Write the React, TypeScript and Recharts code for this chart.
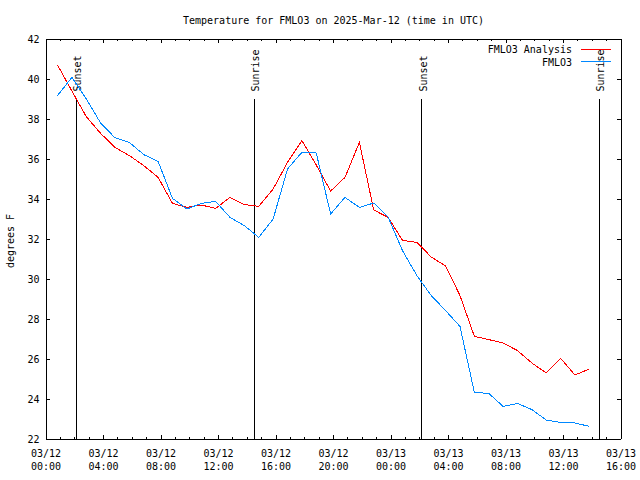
import React from 'react';
import { LineChart, Line, XAxis, YAxis, ReferenceLine, Legend } from 'recharts';

const FONT = '"DejaVu Sans Mono", "Liberation Mono", monospace';
const TITLE = 'Temperature for FMLO3 on 2025-Mar-12 (time in UTC)';
const Y_TITLE = 'degrees F';

// hours since 03/12 00:00 UTC
const HOURS = [
  0.8, 1.8, 2.8, 3.8, 4.8, 5.8, 6.8, 7.8, 8.8, 9.8,
  10.8, 11.8, 12.8, 13.8, 14.8, 15.8, 16.8, 17.8, 18.8, 19.8,
  20.8, 21.8, 22.8, 23.8, 24.8, 25.8, 26.8, 27.8, 28.8, 29.8,
  30.8, 31.8, 32.8, 33.8, 34.8, 35.8, 36.8, 37.8,
];
const ANALYSIS = [
  40.7, 39.4, 38.12, 37.28, 36.58, 36.17, 35.67, 35.08, 33.78, 33.58,
  33.7, 33.53, 34.08, 33.72, 33.63, 34.5, 35.83, 36.92, 35.7, 34.4,
  35.08, 36.83, 33.45, 33.08, 31.93, 31.83, 31.1, 30.65, 29.17, 27.13,
  26.97, 26.8, 26.42, 25.8, 25.3, 26.03, 25.2, 25.5,
];
const OBSERVED = [
  39.17, 40.08, 39.0, 37.8, 37.06, 36.83, 36.22, 35.88, 34.03, 33.5,
  33.78, 33.88, 33.08, 32.67, 32.08, 33.0, 35.5, 36.33, 36.3, 33.25,
  34.08, 33.58, 33.8, 33.1, 31.42, 30.17, 29.17, 28.42, 27.63, 24.33,
  24.28, 23.63, 23.78, 23.47, 22.95, 22.83, 22.8, 22.63,
];

const SERIES_NAMES = ['FMLO3 Analysis', 'FMLO3'];
const SERIES_KEYS = ['analysis', 'observed'];
const SERIES_COLORS = ['#ff0000', '#0088ff'];

const HOUR_TICKS = [
  0, 1, 2, 3, 4, 5, 6, 7, 8, 9, 10, 11, 12, 13, 14, 15, 16, 17, 18, 19, 20,
  21, 22, 23, 24, 25, 26, 27, 28, 29, 30, 31, 32, 33, 34, 35, 36, 37, 38, 39, 40,
];
const MAJOR_TICKS = [0, 4, 8, 12, 16, 20, 24, 28, 32, 36, 40];
const TICK_DATES = ['03/12', '03/12', '03/12', '03/12', '03/12', '03/12', '03/13', '03/13', '03/13', '03/13', '03/13'];
const TICK_TIMES = ['00:00', '04:00', '08:00', '12:00', '16:00', '20:00', '00:00', '04:00', '08:00', '12:00', '16:00'];
const Y_TICKS = [22, 24, 26, 28, 30, 32, 34, 36, 38, 40, 42];

const SUN_TIMES = [2.12, 14.5, 26.13, 38.48];
const SUN_LABELS = ['Sunset', 'Sunrise', 'Sunset', 'Sunrise'];
const SUN_LINE_TOP = 39;

const data = HOURS.map((t, i) => ({ t, analysis: ANALYSIS[i], observed: OBSERVED[i] }));

const textStyle = { fontFamily: FONT, fontSize: 10, fill: '#000' };

function BottomTick(props: any) {
  const { x, y, payload } = props;
  const idx = MAJOR_TICKS.indexOf(payload.value);
  const major = idx >= 0;
  return (
    <g>
      <line x1={x} x2={x} y1={y} y2={y - (major ? 4 : 2)} stroke="#000" shapeRendering="crispEdges" />
      {major && (
        <text x={x} y={y} textAnchor="middle" style={textStyle}>
          <tspan x={x} dy={18}>{TICK_DATES[idx]}</tspan>
          <tspan x={x} dy={13}>{TICK_TIMES[idx]}</tspan>
        </text>
      )}
    </g>
  );
}

function TopTick(props: any) {
  const { x, y, payload } = props;
  const major = MAJOR_TICKS.indexOf(payload.value) >= 0;
  return <line x1={x} x2={x} y1={y} y2={y + (major ? 4 : 2)} stroke="#000" shapeRendering="crispEdges" />;
}

function LeftTick(props: any) {
  const { x, y, payload } = props;
  return (
    <g>
      <line x1={x} x2={x + 4} y1={y} y2={y} stroke="#000" shapeRendering="crispEdges" />
      <text x={x - 6.5} y={y} dy={3.6} textAnchor="end" style={textStyle}>
        {payload.value}
      </text>
    </g>
  );
}

function RightTick(props: any) {
  const { x, y } = props;
  return <line x1={x} x2={x - 4} y1={y} y2={y} stroke="#000" shapeRendering="crispEdges" />;
}

function TitleLabel() {
  return (
    <text x={333.5} y={24} textAnchor="middle" style={textStyle}>
      {TITLE}
    </text>
  );
}

function YTitleLabel() {
  return (
    <text x={14} y={241} textAnchor="middle" transform="rotate(-90 14 241)" style={textStyle}>
      {Y_TITLE}
    </text>
  );
}

function makeSunShape(label: string) {
  return (p: any) => (
    <g>
      <line x1={p.x1} x2={p.x2} y1={p.y1} y2={p.y2} stroke="#000" strokeWidth={1} shapeRendering="crispEdges" />
      <text
        x={p.x1 + 5}
        y={Math.min(p.y1, p.y2) - 7.5}
        transform={`rotate(-90 ${p.x1 + 5} ${Math.min(p.y1, p.y2) - 7.5})`}
        textAnchor="start"
        style={textStyle}
      >
        {label}
      </text>
    </g>
  );
}

function LegendBox() {
  return (
    <svg width={140} height={28} style={{ display: 'block' }}>
      {SERIES_NAMES.map((n, i) => (
        <g key={n}>
          <text x={91} y={10 + i * 12.5} textAnchor="end" style={textStyle}>
            {n}
          </text>
          <line
            x1={100}
            x2={130}
            y1={6.5 + i * 12}
            y2={6.5 + i * 12}
            stroke={SERIES_COLORS[i]}
            shapeRendering="crispEdges"
          />
        </g>
      ))}
    </svg>
  );
}

export default function App() {
  return (
    <div style={{ position: 'absolute', left: 0, top: 0, width: 640, height: 480, background: '#fff' }}>
      <LineChart
        width={640}
        height={480}
        data={data}
        margin={{ top: 0, right: 0, bottom: 0, left: 0 }}
        style={{ fontFamily: FONT }}
      >
        <XAxis
          dataKey="t"
          type="number"
          domain={[0, 40]}
          ticks={HOUR_TICKS}
          interval={0}
          height={41}
          tickSize={0}
          tickMargin={0}
          tickLine={false}
          tick={<BottomTick />}
          axisLine={{ stroke: '#000', shapeRendering: 'crispEdges' }}
          allowDataOverflow
        />
        <XAxis
          xAxisId="top"
          orientation="top"
          dataKey="t"
          type="number"
          domain={[0, 40]}
          ticks={HOUR_TICKS}
          interval={0}
          height={39}
          tickSize={0}
          tickMargin={0}
          tickLine={false}
          tick={<TopTick />}
          axisLine={{ stroke: '#000', shapeRendering: 'crispEdges' }}
          label={<TitleLabel />}
          allowDataOverflow
        />
        <YAxis
          type="number"
          domain={[22, 42]}
          ticks={Y_TICKS}
          interval={0}
          width={46}
          tickSize={0}
          tickMargin={0}
          tickLine={false}
          tick={<LeftTick />}
          axisLine={{ stroke: '#000', shapeRendering: 'crispEdges' }}
          label={<YTitleLabel />}
          allowDataOverflow
        />
        <YAxis
          yAxisId="right"
          orientation="right"
          type="number"
          domain={[22, 42]}
          ticks={Y_TICKS}
          interval={0}
          width={19}
          tickSize={0}
          tickMargin={0}
          tickLine={false}
          tick={<RightTick />}
          axisLine={{ stroke: '#000', shapeRendering: 'crispEdges' }}
          allowDataOverflow
        />
        {SUN_TIMES.map((t, i) => (
          <ReferenceLine
            key={`sun-${i}`}
            segment={[
              { x: t, y: 22 },
              { x: t, y: SUN_LINE_TOP },
            ]}
            stroke="#000"
            shape={makeSunShape(SUN_LABELS[i])}
          />
        ))}
        {SERIES_KEYS.map((k, i) => (
          <Line
            key={k}
            dataKey={k}
            name={SERIES_NAMES[i]}
            type="linear"
            stroke={SERIES_COLORS[i]}
            strokeWidth={1}
            dot={false}
            activeDot={false}
            isAnimationActive={false}
            shapeRendering="crispEdges"
          />
        ))}
        <Legend
          layout="vertical"
          align="center"
          verticalAlign="middle"
          wrapperStyle={{ left: 481, top: 43, width: 140, height: 28 }}
          content={<LegendBox />}
        />
      </LineChart>
    </div>
  );
}
